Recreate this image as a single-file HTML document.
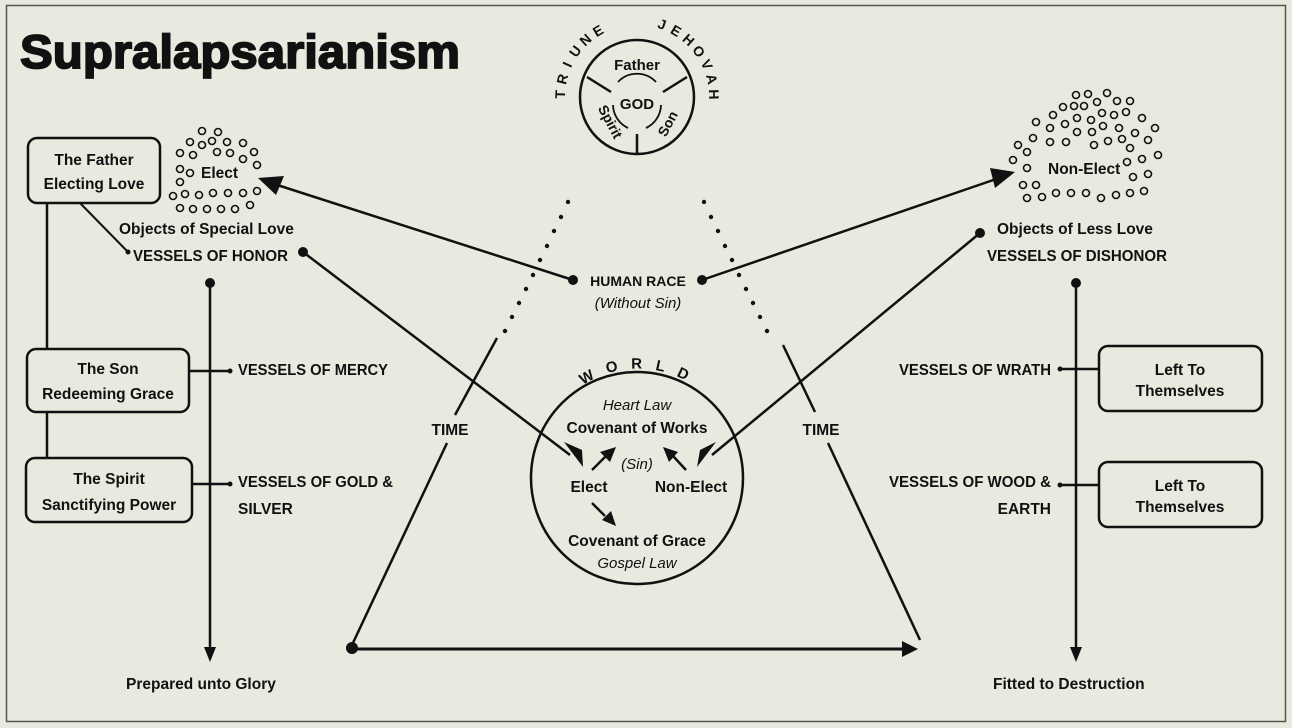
<!DOCTYPE html>
<html><head><meta charset="utf-8"><style>
html,body{margin:0;padding:0;background:#e8e9df;}
svg{display:block}
text{font-family:"Liberation Sans",sans-serif;font-weight:bold;fill:#111;}
.it{font-style:italic;font-weight:normal}
</style></head><body>
<svg width="1292" height="728" viewBox="0 0 1292 728" xmlns="http://www.w3.org/2000/svg">
<rect x="0" y="0" width="1292" height="728" fill="#e8e9df"/>
<rect x="6.5" y="5.5" width="1279" height="716" fill="none" stroke="#555" stroke-width="1.5"/>
<text x="20" y="68" font-size="47" stroke="#111" stroke-width="1.8" textLength="440" lengthAdjust="spacingAndGlyphs">Supralapsarianism</text>

<g stroke="#111" fill="none" stroke-width="2.5">
<circle cx="637" cy="97" r="57"/>
<line x1="587" y1="77" x2="611" y2="92"/>
<line x1="687" y1="77" x2="663" y2="92"/>
<line x1="637" y1="134" x2="637" y2="155"/>
<path d="M613 105 A26 26 0 0 0 628 128" stroke-width="1.8"/>
<path d="M646 128 A26 26 0 0 0 661 105" stroke-width="1.8"/>
<path d="M618 82 A26 26 0 0 1 656 82" stroke-width="1.8"/>
<circle cx="637" cy="478" r="106"/>
<rect x="28" y="138" width="132" height="65" rx="9"/>
<rect x="27" y="349" width="162" height="63" rx="9"/>
<rect x="26" y="458" width="166" height="64" rx="9"/>
<rect x="1099" y="346" width="163" height="65" rx="9"/>
<rect x="1099" y="462" width="163" height="65" rx="9"/>
<line x1="47" y1="203" x2="47" y2="349"/>
<line x1="47" y1="412" x2="47" y2="458"/>
<line x1="80" y1="203" x2="127" y2="251" stroke-width="2"/>
<line x1="189" y1="371" x2="230" y2="371"/>
<line x1="192" y1="484" x2="230" y2="484"/>
<line x1="1060" y1="369" x2="1099" y2="369"/>
<line x1="1060" y1="485" x2="1099" y2="485"/>
<line x1="210" y1="283" x2="210" y2="650"/>
<line x1="1076" y1="283" x2="1076" y2="650"/>
<line x1="573" y1="280" x2="268" y2="182"/>
<line x1="702" y1="280" x2="1005" y2="176"/>
<line x1="303" y1="252" x2="570" y2="455"/>
<line x1="980" y1="233" x2="712" y2="455"/>
<line x1="497" y1="338" x2="455" y2="415"/>
<line x1="447" y1="443" x2="352" y2="645"/>
<line x1="783" y1="345" x2="815" y2="412"/>
<line x1="828" y1="443" x2="920" y2="640"/>
<line x1="352" y1="649" x2="905" y2="649" stroke-width="3"/>
<line x1="592" y1="470" x2="606" y2="456"/>
<line x1="686" y1="470" x2="673" y2="456"/>
<line x1="592" y1="503" x2="605" y2="516"/>
</g>
<g fill="#111">
<circle cx="210" cy="283" r="5"/><circle cx="1076" cy="283" r="5"/>
<circle cx="573" cy="280" r="5"/><circle cx="702" cy="280" r="5"/>
<circle cx="303" cy="252" r="5"/><circle cx="980" cy="233" r="5"/>
<circle cx="352" cy="648" r="6"/>
<circle cx="230" cy="371" r="2.5"/><circle cx="230" cy="484" r="2.5"/>
<circle cx="1060" cy="369" r="2.5"/><circle cx="1060" cy="485" r="2.5"/>
<circle cx="128" cy="252" r="2.5"/>
<polygon points="204,647 216,647 210,662"/>
<polygon points="1070,647 1082,647 1076,662"/>
<polygon points="902,641 918,649 902,657"/>
<polygon points="258,178 284,176 276,195"/>
<polygon points="1015,172 990,168 995,188"/>
<polygon points="583,467 564,442 582,450"/>
<polygon points="697,467 716,442 700,450"/>
<polygon points="616,447 600,452 610,462"/>
<polygon points="663,447 678,452 669,462"/>
<polygon points="616,526 602,520 611,511"/>
<circle cx="568" cy="202" r="2.2"/><circle cx="561" cy="217" r="2.2"/><circle cx="554" cy="231" r="2.2"/><circle cx="547" cy="246" r="2.2"/><circle cx="540" cy="260" r="2.2"/><circle cx="533" cy="275" r="2.2"/><circle cx="526" cy="289" r="2.2"/><circle cx="519" cy="303" r="2.2"/><circle cx="512" cy="317" r="2.2"/><circle cx="505" cy="331" r="2.2"/>
<circle cx="704" cy="202" r="2.2"/><circle cx="711" cy="217" r="2.2"/><circle cx="718" cy="231" r="2.2"/><circle cx="725" cy="246" r="2.2"/><circle cx="732" cy="260" r="2.2"/><circle cx="739" cy="275" r="2.2"/><circle cx="746" cy="289" r="2.2"/><circle cx="753" cy="303" r="2.2"/><circle cx="760" cy="317" r="2.2"/><circle cx="767" cy="331" r="2.2"/>
</g>
<g fill="none" stroke="#111" stroke-width="1.6">
<circle cx="202" cy="131" r="3.5"/><circle cx="218" cy="132" r="3.5"/><circle cx="190" cy="142" r="3.5"/><circle cx="202" cy="145" r="3.5"/><circle cx="212" cy="141" r="3.5"/><circle cx="227" cy="142" r="3.5"/><circle cx="243" cy="143" r="3.5"/><circle cx="180" cy="153" r="3.5"/><circle cx="193" cy="155" r="3.5"/><circle cx="217" cy="152" r="3.5"/><circle cx="230" cy="153" r="3.5"/><circle cx="254" cy="152" r="3.5"/><circle cx="243" cy="159" r="3.5"/><circle cx="257" cy="165" r="3.5"/><circle cx="180" cy="169" r="3.5"/><circle cx="190" cy="173" r="3.5"/><circle cx="180" cy="182" r="3.5"/><circle cx="173" cy="196" r="3.5"/><circle cx="185" cy="194" r="3.5"/><circle cx="199" cy="195" r="3.5"/><circle cx="213" cy="193" r="3.5"/><circle cx="228" cy="193" r="3.5"/><circle cx="243" cy="193" r="3.5"/><circle cx="257" cy="191" r="3.5"/><circle cx="180" cy="208" r="3.5"/><circle cx="193" cy="209" r="3.5"/><circle cx="207" cy="209" r="3.5"/><circle cx="221" cy="209" r="3.5"/><circle cx="235" cy="209" r="3.5"/><circle cx="250" cy="205" r="3.5"/>
<circle cx="1076" cy="95" r="3.5"/><circle cx="1088" cy="94" r="3.5"/><circle cx="1107" cy="93" r="3.5"/><circle cx="1063" cy="107" r="3.5"/><circle cx="1074" cy="106" r="3.5"/><circle cx="1084" cy="106" r="3.5"/><circle cx="1097" cy="102" r="3.5"/><circle cx="1117" cy="101" r="3.5"/><circle cx="1130" cy="101" r="3.5"/><circle cx="1053" cy="115" r="3.5"/><circle cx="1077" cy="118" r="3.5"/><circle cx="1091" cy="120" r="3.5"/><circle cx="1102" cy="113" r="3.5"/><circle cx="1114" cy="115" r="3.5"/><circle cx="1126" cy="112" r="3.5"/><circle cx="1142" cy="118" r="3.5"/><circle cx="1036" cy="122" r="3.5"/><circle cx="1050" cy="128" r="3.5"/><circle cx="1065" cy="124" r="3.5"/><circle cx="1077" cy="132" r="3.5"/><circle cx="1092" cy="132" r="3.5"/><circle cx="1103" cy="126" r="3.5"/><circle cx="1119" cy="128" r="3.5"/><circle cx="1135" cy="133" r="3.5"/><circle cx="1155" cy="128" r="3.5"/><circle cx="1033" cy="138" r="3.5"/><circle cx="1050" cy="142" r="3.5"/><circle cx="1066" cy="142" r="3.5"/><circle cx="1094" cy="145" r="3.5"/><circle cx="1108" cy="141" r="3.5"/><circle cx="1122" cy="139" r="3.5"/><circle cx="1130" cy="148" r="3.5"/><circle cx="1148" cy="140" r="3.5"/><circle cx="1018" cy="145" r="3.5"/><circle cx="1027" cy="152" r="3.5"/><circle cx="1013" cy="160" r="3.5"/><circle cx="1027" cy="168" r="3.5"/><circle cx="1127" cy="162" r="3.5"/><circle cx="1142" cy="159" r="3.5"/><circle cx="1158" cy="155" r="3.5"/><circle cx="1133" cy="177" r="3.5"/><circle cx="1148" cy="174" r="3.5"/><circle cx="1023" cy="185" r="3.5"/><circle cx="1036" cy="185" r="3.5"/><circle cx="1027" cy="198" r="3.5"/><circle cx="1042" cy="197" r="3.5"/><circle cx="1056" cy="193" r="3.5"/><circle cx="1071" cy="193" r="3.5"/><circle cx="1086" cy="193" r="3.5"/><circle cx="1101" cy="198" r="3.5"/><circle cx="1116" cy="195" r="3.5"/><circle cx="1130" cy="193" r="3.5"/><circle cx="1144" cy="191" r="3.5"/>
</g>

<defs>
<path id="arcW" d="M583 385 A100 100 0 0 1 693 385"/>
</defs>
<g font-size="14" text-anchor="middle">
<text transform="translate(565,94.5) rotate(-88)">T</text>
<text transform="translate(567,80.2) rotate(-76.5)">R</text>
<text transform="translate(571.7,66.6) rotate(-65)">I</text>
<text transform="translate(579.1,54.2) rotate(-53.5)">U</text>
<text transform="translate(588.8,43.5) rotate(-42)">N</text>
<text transform="translate(600.5,35) rotate(-30.5)">E</text>
<text transform="translate(660.4,28.9) rotate(19)">J</text>
<text transform="translate(673.5,35) rotate(30.5)">E</text>
<text transform="translate(685.2,43.5) rotate(42)">H</text>
<text transform="translate(694.9,54.2) rotate(53.5)">O</text>
<text transform="translate(702.3,66.6) rotate(65)">V</text>
<text transform="translate(707,80.2) rotate(76.5)">A</text>
<text transform="translate(709,94.5) rotate(88)">H</text>
</g>
<text font-size="15"><textPath href="#arcW" textLength="108" lengthAdjust="spacing">WORLD</textPath></text>
<text font-size="15" text-anchor="middle" x="637" y="70">Father</text>
<text font-size="15" text-anchor="middle" x="637" y="109">GOD</text>
<text font-size="14" text-anchor="middle" transform="translate(606,124) rotate(62)">Spirit</text>
<text font-size="14" text-anchor="middle" transform="translate(672,126) rotate(-62)">Son</text>

<g font-size="15.5">
<text x="94" y="165" text-anchor="middle">The Father</text>
<text x="94" y="189" text-anchor="middle">Electing Love</text>
<text x="108" y="374" text-anchor="middle">The Son</text>
<text x="108" y="399" text-anchor="middle">Redeeming Grace</text>
<text x="109" y="484" text-anchor="middle">The Spirit</text>
<text x="109" y="510" text-anchor="middle">Sanctifying Power</text>
<text x="1180" y="375" text-anchor="middle">Left To</text>
<text x="1180" y="396" text-anchor="middle">Themselves</text>
<text x="1180" y="491" text-anchor="middle">Left To</text>
<text x="1180" y="512" text-anchor="middle">Themselves</text>
<text x="119" y="234">Objects of Special Love</text>
<text x="133" y="261" textLength="155" lengthAdjust="spacingAndGlyphs">VESSELS OF HONOR</text>
<text x="238" y="375" textLength="150" lengthAdjust="spacingAndGlyphs">VESSELS OF MERCY</text>
<text x="238" y="487" textLength="155" lengthAdjust="spacingAndGlyphs">VESSELS OF GOLD &amp;</text>
<text x="238" y="514">SILVER</text>
<text x="997" y="234">Objects of Less Love</text>
<text x="987" y="261" textLength="180" lengthAdjust="spacingAndGlyphs">VESSELS OF DISHONOR</text>
<text x="899" y="375" textLength="152" lengthAdjust="spacingAndGlyphs">VESSELS OF WRATH</text>
<text x="889" y="487" textLength="162" lengthAdjust="spacingAndGlyphs">VESSELS OF WOOD &amp;</text>
<text x="1051" y="514" text-anchor="end">EARTH</text>
<text x="126" y="689">Prepared unto Glory</text>
<text x="993" y="689">Fitted to Destruction</text>
<text x="450" y="435" text-anchor="middle">TIME</text>
<text x="821" y="435" text-anchor="middle">TIME</text>
<text x="637" y="433" text-anchor="middle">Covenant of Works</text>
<text x="637" y="546" text-anchor="middle">Covenant of Grace</text>
<text x="589" y="492" text-anchor="middle">Elect</text>
<text x="691" y="492" text-anchor="middle">Non-Elect</text>
<text x="1048" y="174">Non-Elect</text>
<text x="201" y="178">Elect</text>
</g>
<g font-size="15">
<text class="it" x="637" y="410" text-anchor="middle">Heart Law</text>
<text class="it" x="637" y="469" text-anchor="middle">(Sin)</text>
<text class="it" x="637" y="568" text-anchor="middle">Gospel Law</text>
<text class="it" x="638" y="308" text-anchor="middle">(Without Sin)</text>
</g>
<text x="638" y="286" font-size="14" text-anchor="middle">HUMAN RACE</text>
</svg>
</body></html>
